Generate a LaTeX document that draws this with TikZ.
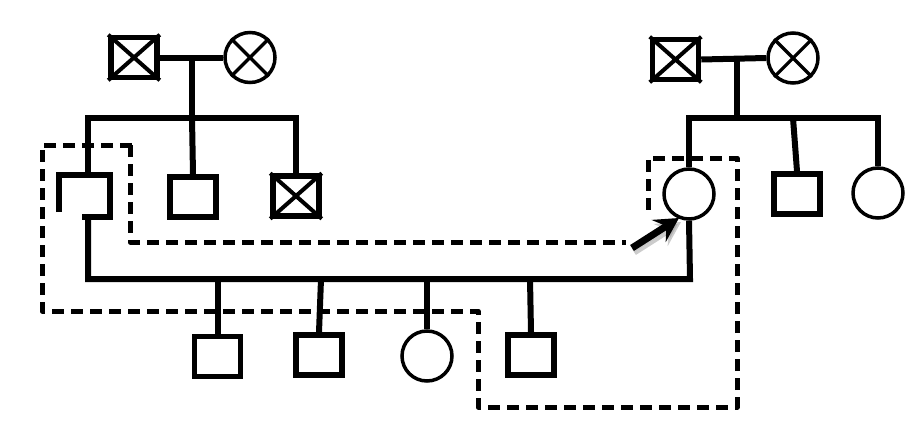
\documentclass[tikz,border=0pt]{standalone}
\usetikzlibrary{arrows.meta}
\begin{document}
\begin{tikzpicture}[x=1pt,y=-1pt,
  male/.style={draw,rectangle,line width=5.5pt,inner sep=0pt,minimum width=46pt,minimum height=40pt},
  female/.style={draw,circle,line width=3.5pt,inner sep=0pt,minimum size=50pt},
  line/.style={line width=6pt},
  crossed/.style={line width=4pt},
  trail/.style={line width=5pt,dash pattern=on 12pt off 7pt,line join=round},
  proband/.style={line width=7pt,-{Stealth[length=24pt,width=26pt,inset=9pt]}}
]
\useasboundingbox (0,0) rectangle (909,439);

% left grandparents
\node[male]   (lgf) at (134,57.5) {};
\node[female] (lgm) at (250,57.5) {};
\draw[crossed] (lgf.north west) -- (lgf.south east) (lgf.north east) -- (lgf.south west);
\draw[crossed,line width=3.2pt] (lgm.north west) -- (lgm.south east) (lgm.north east) -- (lgm.south west);
\draw[line] (lgf.east) -- (lgm.west);
\coordinate (lmar) at (192,57.5);
\coordinate (lsib) at (192,118);
\draw[line] (lmar) -- (lsib);
\coordinate (lsibL) at (88,118);
\coordinate (lsibR) at (296,118);
\draw[line,line cap=rect] (lsibL) -- (lsibR);

% left children
\coordinate (fa) at (88,175);
\draw[line] (lsibL) -- (fa);
\draw[line width=5.5pt] (59,212) -- (59,175) -- (110,175) -- (110,217) -- (82,217);
\coordinate (fab) at (88,217);
\node[male] (lc2) at (193,197) {};
\node[male] (lc3) at (296,196) {};
\draw[crossed] (lc3.north west) -- (lc3.south east) (lc3.north east) -- (lc3.south west);
\draw[line] (lsib) -- (lc2.north);
\draw[line] (lsibR) -- (lc3.north);

% right grandparents
\node[male]   (rgf) at (675.5,59.5) {};
\node[female] (rgm) at (793,58) {};
\draw[crossed] (rgf.north west) -- (rgf.south east) (rgf.north east) -- (rgf.south west);
\draw[crossed,line width=3.2pt] (rgm.north west) -- (rgm.south east) (rgm.north east) -- (rgm.south west);
\draw[line] (rgf.east) -- (rgm.west);
\coordinate (rmar) at (737,59);
\coordinate (rsib) at (737,118);
\draw[line] (rmar) -- (rsib);
\coordinate (rsibL) at (689,118);
\coordinate (rsibR) at (878,118);
\draw[line,line cap=rect] (rsibL) -- (rsibR);

% right children
\node[female] (mo)  at (689,194) {};
\node[male]   (rc2) at (797,194) {};
\node[female] (rc3) at (878,193) {};
\draw[line] (rsibL) -- (mo.north);
\draw[line] (793,118) -- (rc2.north);
\draw[line] (rsibR) -- (rc3.north);

% couple and their children
\coordinate (cL) at (88,279);
\coordinate (cR) at (690,279);
\draw[line,line join=miter] (fab) -- (cL) -- (cR) -- (mo.south);
\node[male]   (k1) at (217.5,356.5) {};
\node[male]   (k2) at (319,355) {};
\node[female] (k3) at (427,356) {};
\node[male]   (k4) at (531,355) {};
\draw[line] (217.5,279) -- (k1.north);
\draw[line] (321,279) -- (k2.north);
\draw[line] (427,279) -- (k3.north);
\draw[line] (530,279) -- (k4.north);

% dashed outlines
\draw[trail] (132,145) -- (42,145) -- (42,311) -- (478,311) -- (478,407) -- (737,407) -- (737,158) -- (648,158) -- (648,215);
\draw[trail] (130,145) -- (130,242) -- (626,242);

% proband arrow
\coordinate (pa) at (632,248);
\coordinate (pb) at (679,218);
\draw[proband,draw=black!40,fill=black!40,opacity=0.5] ([shift={(2,4)}]pa) -- ([shift={(2,4)}]pb);
\draw[proband] (pa) -- (pb);
\end{tikzpicture}
\end{document}
